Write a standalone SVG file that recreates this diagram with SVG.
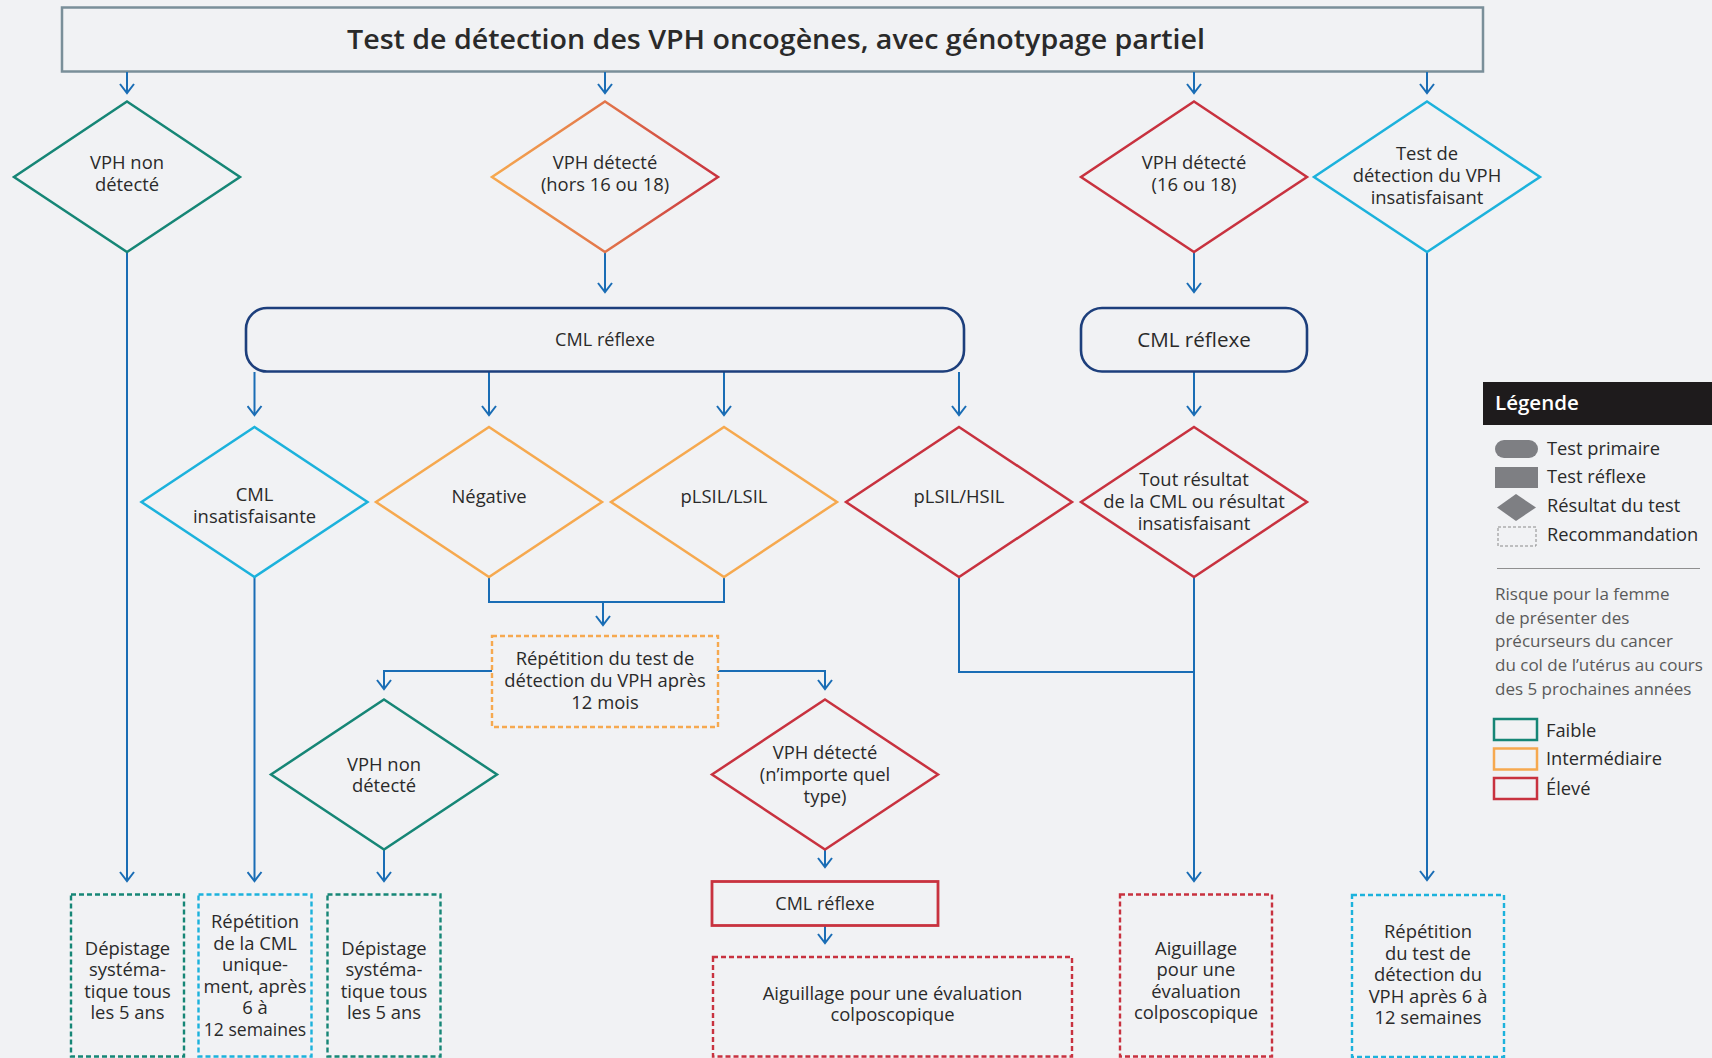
<svg xmlns="http://www.w3.org/2000/svg" width="1712" height="1058" viewBox="0 0 1712 1058">
  <defs>
    <style>
      text { font-family: "Open Sans", "Noto Sans", "Liberation Sans", sans-serif; fill: #2a2a2a; }
      .t { font-size: 18.4px; text-anchor: middle; }
      .tl { font-size: 18.3px; }
      .para { font-size: 17px; fill: #5a5a5a; }
      .conn { fill: none; stroke: #1a6db5; stroke-width: 2; }
      .arr { marker-end: url(#ah); }
      .dia { fill: none; stroke-width: 2.5; }
      .green { stroke: #168676; }
      .orange { stroke: #f6a94f; }
      .red { stroke: #c8323f; }
      .cyan { stroke: #1cb2dc; }
      .navy { fill: none; stroke: #1d3f7c; stroke-width: 2.6; }
      .rec { fill: none; stroke-width: 2.4; stroke-dasharray: 5 3; }
    </style>
    <marker id="ah" viewBox="-10 -8 12 16" refX="0" refY="0" markerWidth="12" markerHeight="16" markerUnits="userSpaceOnUse" orient="auto">
      <path d="M-9,-7 L0,0 L-9,7" fill="none" stroke="#1a6db5" stroke-width="2"/>
    </marker>
    <linearGradient id="orangeRed" gradientUnits="userSpaceOnUse" x1="491" y1="0" x2="719" y2="0">
      <stop offset="0" stop-color="#f6a94f"/>
      <stop offset="0.5" stop-color="#e2754a"/>
      <stop offset="1" stop-color="#c8323f"/>
    </linearGradient>
  </defs>

  <rect width="1712" height="1058" fill="#f1f2f4"/>

  <!-- primary test -->
  <g id="title">
    <rect x="62" y="7.5" width="1421" height="64" fill="none" stroke="#7a8f99" stroke-width="2.5"/>
    <text x="776" y="49" textLength="858" lengthAdjust="spacingAndGlyphs" style="font-size:27.5px;font-weight:600;text-anchor:middle">Test de détection des VPH oncogènes, avec génotypage partiel</text>
  </g>

  <!-- connectors -->
  <g id="connectors">
    <path class="conn arr" d="M127,72 V93"/>
    <path class="conn arr" d="M605,72 V93"/>
    <path class="conn arr" d="M1194,72 V93"/>
    <path class="conn arr" d="M1427,72 V93"/>
    <path class="conn arr" d="M127,252 V881"/>
    <path class="conn arr" d="M605,252 V292"/>
    <path class="conn arr" d="M1194,252 V292"/>
    <path class="conn arr" d="M1427,252 V880"/>
    <path class="conn arr" d="M254.5,372 V415"/>
    <path class="conn arr" d="M489,372 V415"/>
    <path class="conn arr" d="M724,372 V415"/>
    <path class="conn arr" d="M959,372 V415"/>
    <path class="conn arr" d="M1194,372 V415"/>
    <path class="conn arr" d="M254.5,577 V881"/>
    <path class="conn" d="M489,577 V602 H724 V577"/>
    <path class="conn arr" d="M603,602 V625"/>
    <path class="conn arr" d="M492,671 H384 V689"/>
    <path class="conn arr" d="M718,671 H825 V689"/>
    <path class="conn arr" d="M384,849 V881"/>
    <path class="conn arr" d="M825,849 V867"/>
    <path class="conn arr" d="M825,926 V943"/>
    <path class="conn" d="M959,577 V672 H1194"/>
    <path class="conn arr" d="M1194,577 V881"/>
  </g>

  <!-- first results -->
  <g id="hpv-negative">
    <polygon class="dia green" points="127,101.5 240,177 127,252 14,177"/>
    <text class="t" x="127" y="169">VPH non</text>
    <text class="t" x="127" y="191">détecté</text>
  </g>
  <g id="hpv-other">
    <polygon class="dia" stroke="url(#orangeRed)" points="605,101.5 718,177 605,252 492,177"/>
    <text class="t" x="605" y="169">VPH détecté</text>
    <text class="t" x="605" y="191">(hors 16 ou 18)</text>
  </g>
  <g id="hpv-16-18">
    <polygon class="dia red" points="1194,101.5 1307,177 1194,252 1081,177"/>
    <text class="t" x="1194" y="169">VPH détecté</text>
    <text class="t" x="1194" y="191">(16 ou 18)</text>
  </g>
  <g id="hpv-unsatisfactory">
    <polygon class="dia cyan" points="1427,101.5 1540,177 1427,252 1314,177"/>
    <text class="t" x="1427" y="160">Test de</text>
    <text class="t" x="1427" y="182">détection du VPH</text>
    <text class="t" x="1427" y="204">insatisfaisant</text>
  </g>

  <!-- reflex cytology -->
  <g id="reflex-lbc-1">
    <rect class="navy" x="246" y="308" width="718" height="63.5" rx="21"/>
    <text class="t" x="605" y="346" style="font-size:18.1px">CML réflexe</text>
  </g>
  <g id="reflex-lbc-2">
    <rect class="navy" x="1081" y="308" width="226" height="63.5" rx="21"/>
    <text class="t" x="1194" y="347" style="font-size:20.6px">CML réflexe</text>
  </g>

  <!-- cytology results -->
  <g id="lbc-unsatisfactory">
    <polygon class="dia cyan" points="254.5,427 367.5,502 254.5,577 141.5,502"/>
    <text class="t" x="254.5" y="501">CML</text>
    <text class="t" x="254.5" y="523">insatisfaisante</text>
  </g>
  <g id="lbc-negative">
    <polygon class="dia orange" points="489,427 602,502 489,577 376,502"/>
    <text class="t" x="489" y="503">Négative</text>
  </g>
  <g id="lbc-lsil">
    <polygon class="dia orange" points="724,427 837,502 724,577 611,502"/>
    <text class="t" x="724" y="503">pLSIL/LSIL</text>
  </g>
  <g id="lbc-hsil">
    <polygon class="dia red" points="959,427 1072,502 959,577 846,502"/>
    <text class="t" x="959" y="503">pLSIL/HSIL</text>
  </g>
  <g id="lbc-any">
    <polygon class="dia red" points="1194,427 1307,502 1194,577 1081,502"/>
    <text class="t" x="1194" y="486">Tout résultat</text>
    <text class="t" x="1194" y="508">de la CML ou résultat</text>
    <text class="t" x="1194" y="530">insatisfaisant</text>
  </g>

  <!-- repeat at 12 months -->
  <g id="repeat-12-months">
    <rect class="rec orange" x="492" y="636" width="226" height="91"/>
    <text class="t" x="605" y="665">Répétition du test de</text>
    <text class="t" x="605" y="687">détection du VPH après</text>
    <text class="t" x="605" y="709">12 mois</text>
  </g>
  <g id="repeat-negative">
    <polygon class="dia green" points="384,699.5 497,774.5 384,849.5 271,774.5"/>
    <text class="t" x="384" y="771">VPH non</text>
    <text class="t" x="384" y="792">détecté</text>
  </g>
  <g id="repeat-positive">
    <polygon class="dia red" points="825,699.5 938,774.5 825,849.5 712,774.5"/>
    <text class="t" x="825" y="759">VPH détecté</text>
    <text class="t" x="825" y="781">(n’importe quel</text>
    <text class="t" x="825" y="803">type)</text>
  </g>
  <g id="reflex-lbc-3">
    <rect x="712" y="881.5" width="226" height="44" fill="none" stroke="#c8323f" stroke-width="2.8"/>
    <text class="t" x="825" y="909.5" style="font-size:18px">CML réflexe</text>
  </g>

  <!-- recommendations -->
  <g id="routine-1">
    <rect class="rec green" x="71" y="894.5" width="113" height="162"/>
    <text class="t" x="127.5" y="954.5">Dépistage</text>
    <text class="t" x="127.5" y="976">systéma-</text>
    <text class="t" x="127.5" y="997.5">tique tous</text>
    <text class="t" x="127.5" y="1019">les 5 ans</text>
  </g>
  <g id="repeat-lbc">
    <rect class="rec cyan" x="198.5" y="894.5" width="113" height="162"/>
    <text class="t" x="255" y="928">Répétition</text>
    <text class="t" x="255" y="949.5">de la CML</text>
    <text class="t" x="255" y="971">unique-</text>
    <text class="t" x="255" y="992.5">ment, après</text>
    <text class="t" x="255" y="1014">6 à</text>
    <text class="t" x="255" y="1036" style="font-size:17.6px">12 semaines</text>
  </g>
  <g id="routine-2">
    <rect class="rec green" x="327.5" y="894.5" width="113" height="162"/>
    <text class="t" x="384" y="954.5">Dépistage</text>
    <text class="t" x="384" y="976">systéma-</text>
    <text class="t" x="384" y="997.5">tique tous</text>
    <text class="t" x="384" y="1019">les 5 ans</text>
  </g>
  <g id="colposcopy-1">
    <rect class="rec red" x="713" y="957" width="359" height="99.5"/>
    <text class="t" x="892.5" y="999.5">Aiguillage pour une évaluation</text>
    <text class="t" x="892.5" y="1021">colposcopique</text>
  </g>
  <g id="colposcopy-2">
    <rect class="rec red" x="1120" y="894.5" width="152" height="162"/>
    <text class="t" x="1196" y="954.5">Aiguillage</text>
    <text class="t" x="1196" y="976">pour une</text>
    <text class="t" x="1196" y="997.5">évaluation</text>
    <text class="t" x="1196" y="1019">colposcopique</text>
  </g>
  <g id="repeat-hpv">
    <rect class="rec cyan" x="1352" y="895" width="152" height="162"/>
    <text class="t" x="1428" y="938">Répétition</text>
    <text class="t" x="1428" y="959.5">du test de</text>
    <text class="t" x="1428" y="981">détection du</text>
    <text class="t" x="1428" y="1002.5">VPH après 6 à</text>
    <text class="t" x="1428" y="1024">12 semaines</text>
  </g>

  <!-- legend -->
  <g id="legend">
    <rect x="1483" y="382" width="229" height="43" fill="#1e1b1c"/>
    <text x="1495" y="410" style="font-size:20.5px;font-weight:600;fill:#ffffff">Légende</text>
    <rect x="1495" y="440" width="43" height="18" rx="9" fill="#7e7f83"/>
    <text class="tl" x="1547" y="455">Test primaire</text>
    <rect x="1495" y="467" width="43" height="21" fill="#7e7f83"/>
    <text class="tl" x="1547" y="483">Test réflexe</text>
    <polygon points="1516,494 1536,507.5 1516,521 1497,507.5" fill="#7e7f83"/>
    <text class="tl" x="1547" y="512">Résultat du test</text>
    <rect x="1498" y="527" width="38" height="19" fill="none" stroke="#8a8a8a" stroke-width="1" stroke-dasharray="3 2"/>
    <text class="tl" x="1547" y="541">Recommandation</text>
    <line x1="1497" y1="568.5" x2="1700" y2="568.5" stroke="#8f8f8f" stroke-width="1.2"/>
    <text class="para" x="1495" y="599.5">Risque pour la femme</text>
    <text class="para" x="1495" y="623.5">de présenter des</text>
    <text class="para" x="1495" y="647">précurseurs du cancer</text>
    <text class="para" x="1495" y="671">du col de l’utérus au cours</text>
    <text class="para" x="1495" y="695">des 5 prochaines années</text>
    <rect x="1494" y="719" width="43" height="21" fill="none" stroke="#168676" stroke-width="2.5"/>
    <text class="tl" x="1546" y="736.5">Faible</text>
    <rect x="1494" y="748.5" width="43" height="21" fill="none" stroke="#f6a94f" stroke-width="2.5"/>
    <text class="tl" x="1546" y="765">Intermédiaire</text>
    <rect x="1494" y="778" width="43" height="21" fill="none" stroke="#c8323f" stroke-width="2.5"/>
    <text class="tl" x="1546" y="794.5">Élevé</text>
  </g>
</svg>
